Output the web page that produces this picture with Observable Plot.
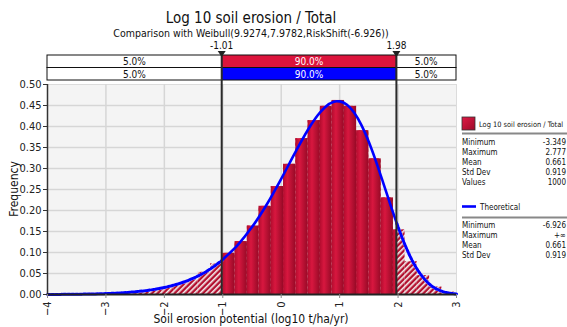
<!DOCTYPE html>
<html>
<head>
<meta charset="utf-8">
<script src="https://cdn.jsdelivr.net/npm/d3@7"></script>
<script src="https://cdn.jsdelivr.net/npm/@observablehq/plot@0.6"></script>
<style>
  html, body { margin: 0; padding: 0; background: #fff; }
  svg { display: block; }
</style>
</head>
<body>
<div id="chart"></div>
<script>
// ---------- data ----------
const binEdges = [-3.50,-3.29,-3.08,-2.87,-2.66,-2.46,-2.25,-2.04,-1.83,-1.62,-1.42,-1.21,-1.00,-0.79,-0.58,-0.38,-0.17,0.04,0.25,0.46,0.67,0.87,1.08,1.29,1.50,1.71,1.92,2.12,2.33,2.54,2.75,2.96];
const binFreq = [0.001,0.003,0.004,0.004,0.006,0.009,0.012,0.019,0.025,0.035,0.053,0.073,0.098,0.126,0.163,0.210,0.257,0.310,0.371,0.414,0.448,0.462,0.448,0.390,0.323,0.230,0.154,0.078,0.045,0.018,0.006];

const curveX = [-4.00,-3.75,-3.50,-3.25,-3.00,-2.75,-2.50,-2.25,-2.00,-1.75,-1.50,-1.25,-1.01,-1.00,-0.75,-0.50,-0.25,0.00,0.25,0.50,0.625,0.75,0.90,0.95,1.00,1.125,1.25,1.375,1.50,1.625,1.75,1.875,1.98,2.00,2.125,2.25,2.50,2.75,3.00];
const curveY = [0.0002,0.0003,0.0007,0.0012,0.0022,0.0038,0.0065,0.0105,0.0167,0.0258,0.0390,0.0576,0.0817,0.0831,0.1170,0.1605,0.2138,0.2754,0.3407,0.4016,0.4267,0.4459,0.4587,0.4601,0.4598,0.4517,0.4326,0.4026,0.3629,0.3158,0.2641,0.2112,0.1684,0.1608,0.1160,0.0787,0.0294,0.0078,0.0014];

const delimiters = [-1.01, 1.98];
const delimiterLabels = ["-1.01", "1.98"];
const rowPercents = ["5.0%", "90.0%", "5.0%"];

const xTicks = [-4,-3,-2,-1,0,1,2,3];
const yTicks = [0,0.05,0.10,0.15,0.20,0.25,0.30,0.35,0.40,0.45,0.50];

const titleText = "Log 10 soil erosion / Total";
const subtitleText = "Comparison with Weibull(9.9274,7.9782,RiskShift(-6.926))";
const xLabel = "Soil erosion potential (log10 t/ha/yr)";
const yLabel = "Frequency";

const seriesName = "Log 10 soil erosion / Total";
const statLabels1 = ["Minimum","Maximum","Mean","Std Dev","Values"];
const statValues1 = ["-3.349","2.777","0.661","0.919","1000"];
const theoName = "Theoretical";
const statLabels2 = ["Minimum","Maximum","Mean","Std Dev"];
const statValues2 = ["-6.926","+\u221E","0.661","0.919"];

// ---------- derived tables ----------
const bins = binFreq.map((f, i) => ({lo: binEdges[i], hi: binEdges[i+1], f}));
const solidBins = bins
  .filter(b => b.hi > delimiters[0] && b.lo < delimiters[1])
  .map(b => ({lo: Math.max(b.lo, delimiters[0]), hi: Math.min(b.hi, delimiters[1]), f: b.f}));
const curve = curveX.map((x, i) => ({x, y: curveY[i]}));
const curveLeft = curve.filter(d => d.x <= delimiters[0]);
const curveMid = curve.filter(d => d.x >= delimiters[0] && d.x <= delimiters[1]);
const curveRight = curve.filter(d => d.x >= delimiters[1]);

const FONT = "'DejaVu Sans Condensed', 'DejaVu Sans', sans-serif";

const plot = Plot.plot({
  width: 567,
  height: 327,
  marginLeft: 47,
  marginRight: 111,
  marginTop: 84,
  marginBottom: 33,
  style: {fontFamily: FONT, background: "#ffffff", color: "#222"},
  x: {domain: [-4, 3]},
  y: {domain: [0, 0.5]},
  marks: [
    Plot.frame({fill: "#f4f4f4", stroke: "#dcdcdc"}),
    Plot.gridX(xTicks.slice(1, -1), {stroke: "#d6d6d6", strokeOpacity: 1, strokeWidth: 1.5}),
    Plot.gridY(yTicks.slice(1, -1), {stroke: "#d6d6d6", strokeOpacity: 1, strokeWidth: 1.5}),
    Plot.rect(bins, {x1: "lo", x2: "hi", y1: 0, y2: "f", fill: "url(#hatch)"}),
    Plot.rect(solidBins, {x1: "lo", x2: "hi", y1: 0, y2: "f", fill: "url(#barGrad)"}),
    Plot.line(curveLeft, {x: "x", y: "y", stroke: "#ffffff", strokeWidth: 3, curve: "monotone-x"}),
    Plot.line(curveLeft, {x: "x", y: "y", stroke: "#0000ff", strokeWidth: 3, strokeDasharray: "2.5,1.5", curve: "monotone-x"}),
    Plot.line(curveRight, {x: "x", y: "y", stroke: "#ffffff", strokeWidth: 3, curve: "monotone-x"}),
    Plot.line(curveRight, {x: "x", y: "y", stroke: "#0000ff", strokeWidth: 3, strokeDasharray: "2.5,1.5", curve: "monotone-x"}),
    Plot.line(curveMid, {x: "x", y: "y", stroke: "#0000ff", strokeWidth: 2.6, curve: "monotone-x"}),
    Plot.ruleX([-4], {stroke: "#333", strokeWidth: 1.5}),
    Plot.ruleY([0], {stroke: "#222", strokeWidth: 1.8}),
    Plot.axisY(yTicks, {tickFormat: d3.format(".2f"), tickSize: 4, tickPadding: 2, fontSize: 11, label: null, stroke: "#333"}),
    Plot.axisX(xTicks, {tickRotate: -90, tickSize: 4, tickPadding: 3, fontSize: 11, label: null, stroke: "#888"})
  ]
});

document.getElementById("chart").appendChild(plot);

const svg = d3.select(plot);
const sx = plot.scale("x").apply;
const sy = plot.scale("y").apply;

// defs: gradient for bars, hatch for tails
const defs = svg.insert("defs", ":first-child");
const grad = defs.append("linearGradient").attr("id", "barGrad")
  .attr("x1", 0).attr("x2", 1).attr("y1", 0).attr("y2", 0);
grad.append("stop").attr("offset", "0%").attr("stop-color", "#b20c2e");
grad.append("stop").attr("offset", "35%").attr("stop-color", "#d8173f");
grad.append("stop").attr("offset", "100%").attr("stop-color", "#980a27");
const legGrad = defs.append("linearGradient").attr("id", "legGrad")
  .attr("x1", 0).attr("x2", 1).attr("y1", 0).attr("y2", 1);
legGrad.append("stop").attr("offset", "0%").attr("stop-color", "#e01a46");
legGrad.append("stop").attr("offset", "100%").attr("stop-color", "#9c0a28");
const hatch = defs.append("pattern").attr("id", "hatch")
  .attr("patternUnits", "userSpaceOnUse").attr("width", 4).attr("height", 4)
  .attr("patternTransform", "rotate(45)");
hatch.append("rect").attr("width", 4).attr("height", 4).attr("fill", "#b3102f");
hatch.append("rect").attr("width", 1.6).attr("height", 4).attr("fill", "#f4f0f0");

const g = svg.append("g").attr("font-family", FONT).attr("text-anchor", "start");

// titles
g.append("text").attr("x", 251).attr("y", 23).attr("text-anchor", "middle")
  .attr("font-size", 15).attr("fill", "#111").text(titleText);
g.append("text").attr("x", 251).attr("y", 37).attr("text-anchor", "middle")
  .attr("font-size", 10.5).attr("fill", "#111").text(subtitleText);

// delimiter bars
const x0 = sx(-4), x3 = sx(3);
const xs = [x0, sx(delimiters[0]), sx(delimiters[1]), x3];
const rows = [{y: 55, h: 12.5, center: "#dc143c"}, {y: 67.5, h: 12.5, center: "#0000ff"}];
rows.forEach(r => {
  for (let i = 0; i < 3; i++) {
    g.append("rect").attr("x", xs[i]).attr("y", r.y).attr("width", xs[i+1] - xs[i]).attr("height", r.h)
      .attr("fill", i === 1 ? r.center : "#fff").attr("stroke", "#111").attr("stroke-width", 1);
    g.append("text").attr("x", (xs[i] + xs[i+1]) / 2).attr("y", r.y + r.h / 2 + 3.8)
      .attr("text-anchor", "middle").attr("font-size", 10)
      .attr("fill", i === 1 ? "#fff" : "#111").text(rowPercents[i]);
  }
});

// delimiter lines, markers and labels
delimiters.forEach((d, i) => {
  const x = sx(d);
  g.append("line").attr("x1", x).attr("x2", x).attr("y1", 52).attr("y2", sy(0))
    .attr("stroke", "#2a2a2a").attr("stroke-width", 2);
  g.append("path").attr("d", `M${x-4},51L${x+4},51L${x},57Z`).attr("fill", "#222");
  g.append("text").attr("x", x).attr("y", 49).attr("text-anchor", "middle")
    .attr("font-size", 10).attr("fill", "#111").text(delimiterLabels[i]);
});

// axis labels
g.append("text").attr("transform", "translate(18,189) rotate(-90)").attr("text-anchor", "middle")
  .attr("font-size", 12).attr("fill", "#111").text(yLabel);
g.append("text").attr("x", 251).attr("y", 323).attr("text-anchor", "middle")
  .attr("font-size", 12).attr("fill", "#111").text(xLabel);

// legend
const lx = 462, vx = 566;
g.append("rect").attr("x", lx).attr("y", 117).attr("width", 13).attr("height", 13)
  .attr("fill", "url(#legGrad)").attr("stroke", "#333").attr("stroke-width", 0.8);
g.append("text").attr("x", 479).attr("y", 127).attr("font-size", 7.4).attr("fill", "#111").text(seriesName);
g.append("line").attr("x1", lx).attr("x2", 567).attr("y1", 133.5).attr("y2", 133.5)
  .attr("stroke", "#888").attr("stroke-width", 2);
statLabels1.forEach((s, i) => {
  const y = 144.5 + i * 10.1;
  g.append("text").attr("x", lx).attr("y", y).attr("font-size", 8).attr("fill", "#111").text(s);
  g.append("text").attr("x", vx).attr("y", y).attr("text-anchor", "end").attr("font-size", 8).attr("fill", "#111").text(statValues1[i]);
});
g.append("line").attr("x1", lx).attr("x2", lx + 14).attr("y1", 206.5).attr("y2", 206.5)
  .attr("stroke", "#0000ff").attr("stroke-width", 2.6);
g.append("text").attr("x", 480).attr("y", 209.5).attr("font-size", 8).attr("fill", "#111").text(theoName);
g.append("line").attr("x1", lx).attr("x2", 567).attr("y1", 217.5).attr("y2", 217.5)
  .attr("stroke", "#888").attr("stroke-width", 2);
statLabels2.forEach((s, i) => {
  const y = 228 + i * 10.1;
  g.append("text").attr("x", lx).attr("y", y).attr("font-size", 8).attr("fill", "#111").text(s);
  g.append("text").attr("x", vx).attr("y", y).attr("text-anchor", "end").attr("font-size", 8).attr("fill", "#111").text(statValues2[i]);
});
</script>
</body>
</html>
